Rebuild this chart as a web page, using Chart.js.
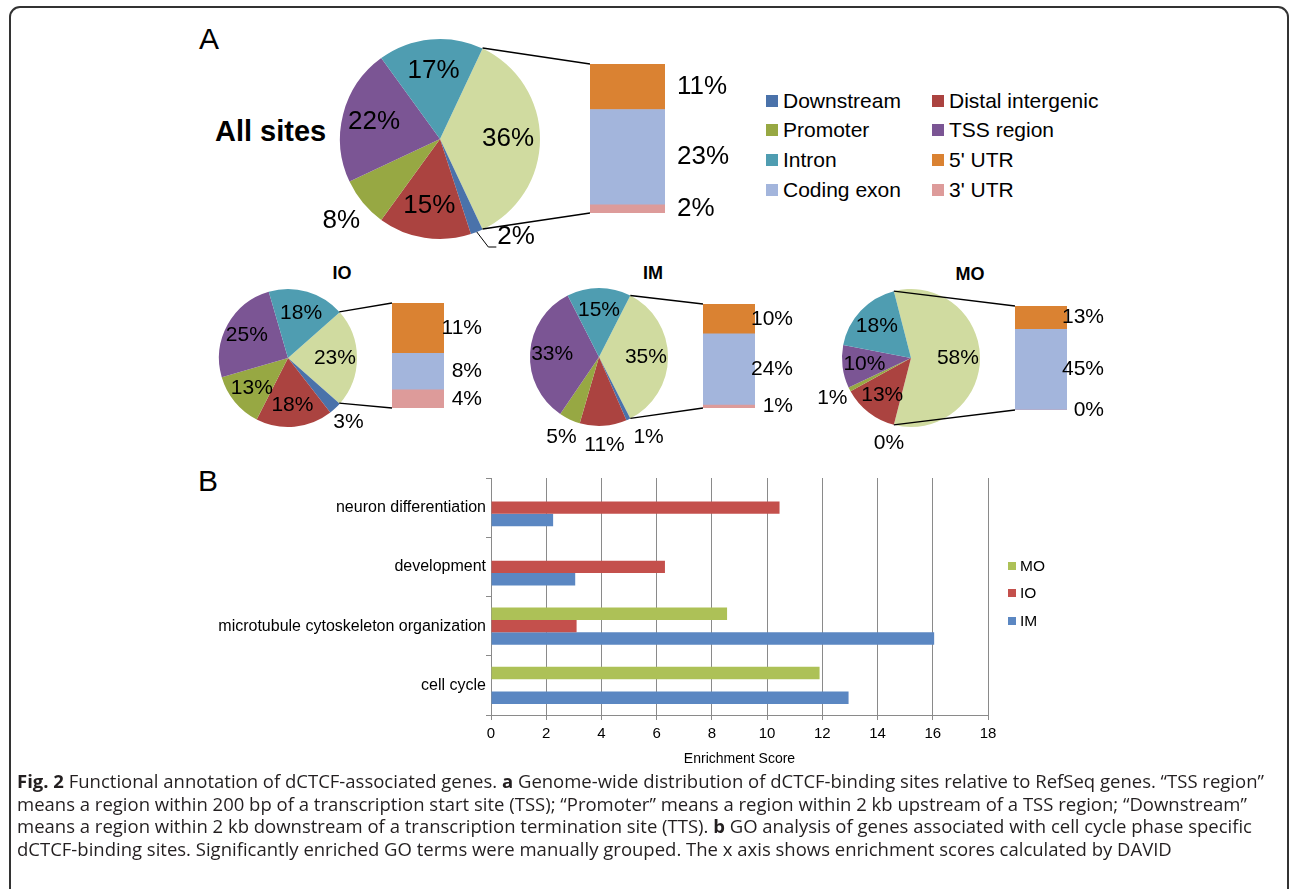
<!DOCTYPE html>
<html>
<head>
<meta charset="utf-8">
<script src="https://cdn.jsdelivr.net/npm/chart.js@4.4.1/dist/chart.umd.min.js"></script>
<style>
    body { margin: 0; width: 1292px; height: 889px; position: relative; overflow: hidden; background: #fff;
           font-family: 'Liberation Sans', Arial, sans-serif; color: #000; }
    .frame { position: absolute; left: 9px; top: 6px; width: 1276px; height: 930px;
             border: 2px solid #333; border-radius: 11px; }
    canvas { position: absolute; }
    .txt { position: absolute; line-height: 1; white-space: nowrap; }
    .panel { font-size: 30px; }
    .title { font-size: 18px; font-weight: bold; transform: translateX(-50%); }
    .legA { position: absolute; left: 766px; top: 86px; display: grid;
            grid-template-columns: 166px 170px; grid-auto-rows: 29.6px; font-size: 21px; }
    .legA div { display: flex; align-items: center; white-space: nowrap; }
    .legA span, .legB span { display: inline-block; width: 12px; height: 12px; margin-right: 5px; }
    .legB { position: absolute; left: 1008px; top: 552px; font-size: 15.5px; }
    .legB div { display: flex; align-items: center; height: 27.5px; }
    .legB span { width: 8px; height: 8px; margin-right: 4px; }
    .caption { position: absolute; left: 17px; top: 770px; font-family: 'Open Sans', sans-serif;
               font-size: 18.5px; line-height: 22.7px; color: #231f20; white-space: nowrap; }
    #overlay { left: 0; top: 0; pointer-events: none; }
</style>
</head>
<body>
<div class="frame"></div>

<div class="txt panel" style="left:199px; top:24px;">A</div>
<div class="txt panel" style="left:198px; top:466px;">B</div>
<div class="txt" style="left:215px; top:117px; font-size:29px; font-weight:bold;">All sites</div>
<div class="txt title" style="left:342px; top:264px;">IO</div>
<div class="txt title" style="left:653px; top:264px;">IM</div>
<div class="txt title" style="left:970px; top:265px;">MO</div>

<canvas id="pieAll"></canvas>
<canvas id="barAll"></canvas>
<canvas id="pieIO"></canvas>
<canvas id="barIO"></canvas>
<canvas id="pieIM"></canvas>
<canvas id="barIM"></canvas>
<canvas id="pieMO"></canvas>
<canvas id="barMO"></canvas>
<div class="legA" id="legA"></div>

<canvas id="goChart"></canvas>
<div class="legB" id="legB"></div>

<div class="caption">
    <div><b>Fig. 2</b> Functional annotation of dCTCF-associated genes. <b>a</b> Genome-wide distribution of dCTCF-binding sites relative to RefSeq genes. “TSS region”</div>
    <div>means a region within 200 bp of a transcription start site (TSS); “Promoter” means a region within 2 kb upstream of a TSS region; “Downstream”</div>
    <div>means a region within 2 kb downstream of a transcription termination site (TTS). <b>b</b> GO analysis of genes associated with cell cycle phase specific</div>
    <div>dCTCF-binding sites. Significantly enriched GO terms were manually grouped. The x axis shows enrichment scores calculated by DAVID</div>
</div>

<canvas id="overlay" width="1292" height="889"></canvas>

<script>
// Pie slices, clockwise starting with the split-off slice (genic parts)
const pieLabels = ['Genic', 'Downstream', 'Distal intergenic', 'Promoter', 'TSS region', 'Intron'];
const allPie = [36, 2, 15, 8, 22, 17];
const ioPie = [23, 3, 18, 13, 25, 18];
const imPie = [35, 1, 11, 5, 33, 15];
const moPie = [58, 0, 13, 1, 10, 18];

// Split-off bar, top to bottom
const barLabels = ["5' UTR", 'Coding exon', "3' UTR"];
const allBar = [11, 23, 2];
const ioBar = [11, 8, 4];
const imBar = [10, 24, 1];
const moBar = [13, 45, 0];

// Legend order of panel A
const legendNames = ['Downstream', 'Distal intergenic', 'Promoter', 'TSS region', 'Intron', "5' UTR", 'Coding exon', "3' UTR"];

// Panel B
const goTerms = ['neuron differentiation', 'development', 'microtubule cytoskeleton organization', 'cell cycle'];
const seriesNames = ['MO', 'IO', 'IM'];
const moScore = [null, null, 8.55, 11.9];
const ioScore = [10.45, 6.3, 3.1, null];
const imScore = [2.25, 3.05, 16.05, 12.95];
const xTicks = [0, 2, 4, 6, 8, 10, 12, 14, 16, 18];

const pieColors = ['#d0dba0', '#4a72aa', '#ab4340', '#97a843', '#7b5594', '#4f9db1'];
const barColors = ['#da8232', '#a3b5dc', '#dd9b9a'];
const seriesColors = ['#adc157', '#c4504c', '#5b87c2'];
const colorOf = {};
pieLabels.forEach((n, i) => colorOf[n] = pieColors[i]);
barLabels.forEach((n, i) => colorOf[n] = barColors[i]);

const sum = arr => arr.reduce((a, b) => a + b, 0);
const sans = "'Liberation Sans', Arial, sans-serif";

// Layout of each pie + bar pair
const layout = {
    all: { cx: 440, cy: 138.5, r: 100, pad: 62, bar: [590, 64, 75, 149], font: 26,
           align: 'left', gap: 12, outside: [1, 3], nudge: { 1: [29, -21] }, leader: [1] },
    io: { cx: 287.5, cy: 357.5, r: 69, pad: 46, bar: [392, 303, 52, 105], font: 21,
          align: 'right', gap: 38, outside: [1], nudge: {}, leader: [] },
    im: { cx: 599, cy: 357, r: 69, pad: 46, bar: [703, 304, 52, 104], font: 21,
          align: 'right', gap: 38, outside: [1, 2, 3], nudge: { 1: [12, 0] }, leader: [] },
    mo: { cx: 911, cy: 358, r: 69, pad: 46, bar: [1015, 306, 52, 104], font: 21,
          align: 'right', gap: 37, outside: [1, 3], nudge: {}, leader: [] }
};

// Percent labels on the pie slices
const pieLabelPlugin = {
    id: 'pieLabels',
    afterDatasetsDraw(chart, args, o) {
        const { ctx } = chart;
        const data = chart.data.datasets[0].data;
        ctx.save();
        ctx.font = `${o.font}px ${sans}`;
        ctx.fillStyle = '#000';
        ctx.strokeStyle = '#000';
        ctx.lineWidth = 1;
        ctx.textAlign = 'center';
        ctx.textBaseline = 'middle';
        chart.getDatasetMeta(0).data.forEach((arc, i) => {
            const p = arc.getProps(['x', 'y', 'startAngle', 'endAngle', 'outerRadius'], true);
            const mid = (p.startAngle + p.endAngle) / 2;
            const out = o.outside.includes(i);
            const k = out ? 1.28 : 0.68;
            let lx = p.x + Math.cos(mid) * p.outerRadius * k;
            let ly = p.y + Math.sin(mid) * p.outerRadius * k;
            const n = o.nudge[i];
            if (n) { lx += n[0]; ly += n[1]; }
            const text = data[i] + '%';
            if (o.leader.includes(i)) {
                const w = ctx.measureText(text).width;
                ctx.beginPath();
                ctx.moveTo(p.x + Math.cos(mid) * p.outerRadius, p.y + Math.sin(mid) * p.outerRadius);
                ctx.lineTo(lx - w / 2 - 9, ly + 10);
                ctx.lineTo(lx - w / 2 - 1, ly + 10);
                ctx.stroke();
            }
            ctx.fillText(text, lx, ly);
        });
        ctx.restore();
    }
};

// Percent labels beside the stacked bar
const barLabelPlugin = {
    id: 'stackLabels',
    afterDatasetsDraw(chart, args, o) {
        const { ctx } = chart;
        ctx.save();
        ctx.font = `${o.font}px ${sans}`;
        ctx.fillStyle = '#000';
        ctx.textAlign = o.align;
        ctx.textBaseline = 'middle';
        chart.data.datasets.forEach((ds, i) => {
            const el = chart.getDatasetMeta(i).data[0];
            const p = el.getProps(['x', 'y', 'base', 'width'], true);
            ctx.fillText(ds.data[0] + '%', p.x + p.width / 2 + o.gap, (p.y + p.base) / 2);
        });
        ctx.restore();
    }
};

function makePie(id, data, L) {
    const canvas = document.getElementById(id);
    const size = 2 * (L.r + L.pad);
    canvas.width = size;
    canvas.height = size;
    canvas.style.left = (L.cx - L.r - L.pad) + 'px';
    canvas.style.top = (L.cy - L.r - L.pad) + 'px';
    return new Chart(canvas, {
        type: 'pie',
        data: {
            labels: pieLabels,
            datasets: [{ data: data, backgroundColor: pieColors, borderWidth: 0 }]
        },
        options: {
            responsive: false,
            animation: false,
            rotation: 90 - 180 * data[0] / sum(data),
            layout: { padding: L.pad },
            plugins: {
                legend: { display: false },
                tooltip: { enabled: false },
                pieLabels: { font: L.font, outside: L.outside, nudge: L.nudge, leader: L.leader }
            }
        },
        plugins: [pieLabelPlugin]
    });
}

function makeStack(id, values, L) {
    const canvas = document.getElementById(id);
    const [bx, by, bw, bh] = L.bar;
    const padR = 90, padV = 22;
    canvas.width = bw + padR;
    canvas.height = bh + 2 * padV;
    canvas.style.left = bx + 'px';
    canvas.style.top = (by - padV) + 'px';
    const order = [2, 1, 0]; // stacked from the bottom up
    return new Chart(canvas, {
        type: 'bar',
        data: {
            labels: [''],
            datasets: order.map(i => ({
                label: barLabels[i],
                data: [values[i]],
                backgroundColor: barColors[i],
                borderWidth: 0,
                barPercentage: 1,
                categoryPercentage: 1
            }))
        },
        options: {
            responsive: false,
            animation: false,
            layout: { padding: { left: 0, right: padR, top: padV, bottom: padV } },
            scales: {
                x: { display: false, stacked: true },
                y: { display: false, stacked: true, min: 0, max: sum(values) }
            },
            plugins: {
                legend: { display: false },
                tooltip: { enabled: false },
                stackLabels: { font: L.font, align: L.align, gap: L.gap }
            }
        },
        plugins: [barLabelPlugin]
    });
}

const pairs = [
    [makePie('pieAll', allPie, layout.all), makeStack('barAll', allBar, layout.all)],
    [makePie('pieIO', ioPie, layout.io), makeStack('barIO', ioBar, layout.io)],
    [makePie('pieIM', imPie, layout.im), makeStack('barIM', imBar, layout.im)],
    [makePie('pieMO', moPie, layout.mo), makeStack('barMO', moBar, layout.mo)]
];

// Legend of panel A
document.getElementById('legA').innerHTML = legendNames.map(n =>
    `<div><span style="background:${colorOf[n]}"></span>${n}</div>`).join('');

// Lines from the split-off slice to the bar
function drawConnectors() {
    const ctx = document.getElementById('overlay').getContext('2d');
    ctx.strokeStyle = '#000';
    ctx.lineWidth = 1.3;
    pairs.forEach(([pie, stack]) => {
        const pr = pie.canvas.getBoundingClientRect();
        const a = pie.getDatasetMeta(0).data[0].getProps(['x', 'y', 'startAngle', 'endAngle', 'outerRadius'], true);
        const sr = stack.canvas.getBoundingClientRect();
        const top = stack.getDatasetMeta(2).data[0].getProps(['x', 'y', 'width'], true);
        const bot = stack.getDatasetMeta(0).data[0].getProps(['x', 'base', 'width'], true);
        const left = sr.left + top.x - top.width / 2;
        ctx.beginPath();
        ctx.moveTo(pr.left + a.x + Math.cos(a.startAngle) * a.outerRadius, pr.top + a.y + Math.sin(a.startAngle) * a.outerRadius);
        ctx.lineTo(left, sr.top + top.y);
        ctx.moveTo(pr.left + a.x + Math.cos(a.endAngle) * a.outerRadius, pr.top + a.y + Math.sin(a.endAngle) * a.outerRadius);
        ctx.lineTo(left, sr.top + bot.base);
        ctx.stroke();
    });
}
drawConnectors();

// Panel B: GO enrichment bar chart
function initGoChart() {
    const canvas = document.getElementById('goChart');
    canvas.width = 820;
    canvas.height = 310;
    canvas.style.left = '190px';
    canvas.style.top = '468px';
    const scores = [moScore, ioScore, imScore];
    new Chart(canvas, {
        type: 'bar',
        data: {
            labels: goTerms,
            datasets: seriesNames.map((name, i) => ({
                label: name,
                data: scores[i],
                backgroundColor: seriesColors[i],
                borderWidth: 0,
                barPercentage: 1,
                categoryPercentage: 0.63
            }))
        },
        options: {
            responsive: false,
            animation: false,
            indexAxis: 'y',
            layout: { padding: { top: 10, right: 22, left: 0, bottom: 0 } },
            scales: {
                x: {
                    min: 0,
                    max: 18,
                    afterBuildTicks: s => { s.ticks = xTicks.map(v => ({ value: v })); },
                    afterFit: s => { s.height = 63; },
                    grid: { color: '#8a8a8a', lineWidth: 1, tickLength: 5 },
                    border: { color: '#8a8a8a' },
                    ticks: { color: '#000', padding: 5, font: { family: sans, size: 15 } },
                    title: { display: true, text: 'Enrichment Score', color: '#000',
                             padding: { top: 0, bottom: 10 }, font: { family: sans, size: 14 } }
                },
                y: {
                    afterFit: s => { s.width = 301; },
                    grid: { drawOnChartArea: false, color: '#8a8a8a', tickLength: 5 },
                    border: { color: '#8a8a8a' },
                    ticks: { color: '#000', padding: 0, font: { family: sans, size: 16 } }
                }
            },
            plugins: {
                legend: { display: false },
                tooltip: { enabled: false }
            }
        }
    });
    // legend, top to bottom like the bars
    document.getElementById('legB').innerHTML = seriesNames.map((n, i) =>
        `<div><span style="background:${seriesColors[i]}"></span>${n}</div>`).join('');
}
initGoChart();
</script>
</body>
</html>
